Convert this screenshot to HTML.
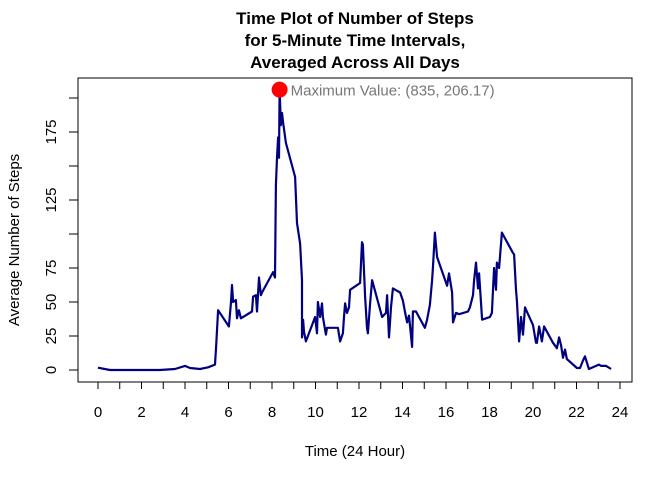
<!DOCTYPE html>
<html><head><meta charset="utf-8"><style>
html,body{margin:0;padding:0;background:#fff;}
svg{display:block;font-family:"Liberation Sans",Arial,sans-serif;}
</style></head><body>
<svg id="chart" width="672" height="480" viewBox="0 0 672 480" xmlns="http://www.w3.org/2000/svg">
<rect width="672" height="480" fill="#fff"/>
<g font-weight="bold" font-size="17" text-anchor="middle" fill="#000">
<text x="355" y="24">Time Plot of Number of Steps</text>
<text x="355" y="46">for 5-Minute Time Intervals,</text>
<text x="355" y="68">Averaged Across All Days</text>
</g>
<rect x="78" y="78" width="554" height="304" fill="none" stroke="#000" stroke-width="1"/>
<g id="xaxis"></g>
<g id="yaxis"></g>
<text x="355" y="456" font-size="15" text-anchor="middle">Time (24 Hour)</text>
<text transform="translate(19,240) rotate(-90)" font-size="15" text-anchor="middle">Average Number of Steps</text>
<polyline id="line" fill="none" stroke="#000080" stroke-width="2.2" stroke-linejoin="round"/>
<circle id="maxpt" r="8" fill="#ff0000"/>
<text id="maxlbl" font-size="15" fill="#777">Maximum Value: (835, 206.17)</text>
</svg>
<script>
const hours=[0,0.55,2.85,3.54,4.0,4.23,4.69,5.06,5.38,5.43,5.52,6.02,6.11,6.16,6.21,6.34,6.39,6.48,6.57,7.08,7.13,7.26,7.31,7.40,7.49,7.54,8.05,8.14,8.18,8.23,8.28,8.32,8.35,8.41,8.46,8.51,8.64,9.06,9.15,9.29,9.38,9.38,9.43,9.47,9.56,9.98,10.07,10.11,10.21,10.30,10.34,10.48,10.53,11.03,11.13,11.26,11.31,11.36,11.45,11.54,11.59,12.05,12.14,12.18,12.28,12.37,12.41,12.51,12.60,13.06,13.24,13.29,13.38,13.47,13.56,13.89,14.02,14.11,14.21,14.30,14.44,14.48,14.62,15.03,15.13,15.26,15.36,15.40,15.49,15.59,16.05,16.14,16.28,16.32,16.46,16.60,17.01,17.10,17.24,17.29,17.38,17.47,17.52,17.66,18.02,18.11,18.16,18.21,18.30,18.34,18.44,18.57,19.08,19.13,19.22,19.26,19.36,19.45,19.54,19.63,20.0,20.14,20.18,20.28,20.41,20.51,20.92,21.10,21.20,21.29,21.38,21.47,21.56,22.02,22.16,22.30,22.39,22.57,23.03,23.13,23.36,23.59];
const steps=[1.7,0,0,0.7,3,1.5,0.7,2,4,17,44,32,49,62.5,50,51.5,38,44,38,43,54,55,43,68,55,57,72,68,136,156,171,156,206.17,180,189,182,167,142,108,93,66,24,37,28,21,39,27,50,39,49,39,26,31,31,21,27,39,49,42,46,59,64,94,92,54,31,27,49,66,39,42,55,24,46,60,57,51,43,35,40,17,43,43,31,37,48,66,75,101,83,62,71,57,35,42,41,43,46,55,66,79,60,71,37,39,42,59,75,59,79,75,101,86,85,59,51,21,39,26,46,33,20,20,32,21,32,20,16,24,18,9,15,8,1.5,1.5,7,10,0.7,4,3,3,0.7,3,0.7];
const xTicks=[0,1,2,3,4,5,6,7,8,9,10,11,12,13,14,15,16,17,18,19,20,21,22,23,24];
const xTickLabels=["0","2","4","6","8","10","12","14","16","18","20","22","24"];
const yTicks=[0,25,50,75,100,125,150,175,200];
const yTickLabels=["0","25","50","75","125","175"];
const maxPoint=[8.35,206.17];
const NS="http://www.w3.org/2000/svg";
const sx=h=>98+h*21.75;
const sy=v=>370-v*1.36;
function mk(tag,attrs,parent){const e=document.createElementNS(NS,tag);for(const k in attrs)e.setAttribute(k,attrs[k]);parent.appendChild(e);return e;}
const xa=document.getElementById('xaxis'),ya=document.getElementById('yaxis');
mk('line',{x1:sx(0),x2:sx(24),y1:382,y2:382,stroke:'#000'},xa);
xTicks.forEach(t=>{const l=mk('line',{x1:sx(t),x2:sx(t),y1:382,y2:389,stroke:'#000'},xa);

});
xTickLabels.forEach(s=>{const t=mk('text',{x:sx(+s),y:417,'font-size':15,'text-anchor':'middle'},xa);t.textContent=s;

});
mk('line',{x1:78,x2:78,y1:sy(0),y2:sy(200),stroke:'#000'},ya);
yTicks.forEach(t=>{const l=mk('line',{x1:69,x2:78,y1:sy(t),y2:sy(t),stroke:'#000'},ya);

});
yTickLabels.forEach(s=>{const t=mk('text',{transform:`translate(56,${sy(+s)}) rotate(-90)`,'font-size':15,'text-anchor':'middle'},ya);t.textContent=s;

});
document.getElementById('line').setAttribute('points',hours.map((h,i)=>sx(h).toFixed(1)+','+sy(steps[i]).toFixed(1)).join(' '));
const mp=document.getElementById('maxpt');mp.setAttribute('cx',sx(maxPoint[0]));mp.setAttribute('cy',sy(maxPoint[1]));
const ml=document.getElementById('maxlbl');ml.setAttribute('x',sx(maxPoint[0])+11);ml.setAttribute('y',sy(maxPoint[1])+6);
</script>
</body></html>
